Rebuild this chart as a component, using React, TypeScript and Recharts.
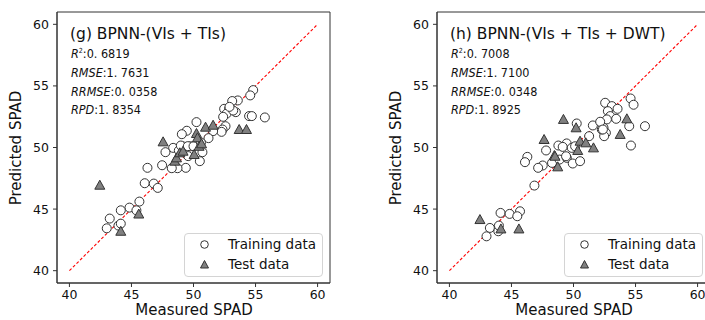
import React from 'react';
import {
  ScatterChart,
  Scatter,
  XAxis,
  YAxis,
  ReferenceLine,
  ReferenceArea,
} from 'recharts';

const gTrain: number[][] = [
  [54.81, 54.66], [54.57, 54.23], [53.57, 53.82], [53.12, 53.77], [52.47, 53.14],
  [52.87, 53.14], [53.41, 52.87], [52.66, 52.74], [52.39, 52.49], [54.48, 52.55],
  [54.7, 52.55], [55.75, 52.44], [52.58, 51.73], [52.34, 51.46], [52.26, 51.27],
  [51.58, 51.33], [51.21, 50.76], [50.24, 52.06], [49.46, 51.36], [49.06, 51.08],
  [49.76, 50.1], [49.12, 50.1], [48.36, 49.97], [47.74, 49.62], [48.82, 49.76],
  [48.98, 50.16], [49.54, 50.11], [50.72, 49.62], [49.57, 49.3], [50.51, 48.89],
  [49.38, 48.35], [48.71, 48.32], [48.25, 48.32], [47.47, 48.56], [46.29, 48.35],
  [46.07, 47.1], [46.8, 47.07], [47.12, 46.72], [45.64, 45.61], [44.84, 45.12],
  [44.14, 44.9], [43.25, 44.23], [43.01, 43.44], [43.95, 43.66], [44.14, 43.82],
  [45.4, 44.9], [50.0, 50.1], [50.6, 50.4], [53.2, 53.0], [52.9, 53.3],
];
const gTest: number[][] = [
  [42.45, 46.94], [44.14, 43.2], [45.59, 44.6], [47.55, 50.46], [48.49, 48.89],
  [48.63, 49.16], [48.9, 49.57], [49.16, 49.7], [50.05, 49.43], [50.24, 51.14],
  [50.32, 50.79], [50.45, 50.1], [50.65, 50.3], [50.97, 51.65], [51.58, 51.81],
  [53.68, 51.46], [54.27, 51.46],
];

const hTrain: number[][] = [
  [52.55, 53.63], [54.6, 53.98], [54.84, 53.47], [53.09, 53.36], [53.55, 53.14],
  [52.77, 52.95], [52.96, 52.55], [53.44, 52.33], [52.69, 52.28], [54.49, 51.73],
  [55.76, 51.73], [52.42, 51.6], [52.61, 51.19], [52.47, 50.92], [52.28, 51.46],
  [54.63, 50.16], [51.56, 51.79], [51.26, 50.92], [50.26, 51.95], [48.78, 50.16],
  [49.45, 50.33], [49.13, 50.05], [49.86, 49.97], [47.79, 49.76], [46.28, 49.24],
  [46.09, 48.81], [47.52, 48.54], [47.15, 48.35], [48.27, 48.75], [48.87, 49.02],
  [49.46, 49.16], [49.94, 48.7], [50.53, 48.89], [46.85, 46.91], [44.12, 44.69],
  [44.85, 44.61], [45.69, 44.82], [45.47, 44.42], [43.26, 43.47], [43.94, 43.2],
  [42.99, 42.79], [43.99, 43.66], [49.4, 49.29], [50.13, 50.1], [52.15, 52.09],
  [52.37, 51.46],
];
const hTest: number[][] = [
  [42.46, 44.15], [44.15, 43.39], [45.6, 43.39], [49.19, 52.28], [50.21, 51.6],
  [47.63, 50.65], [48.46, 49.35], [48.73, 48.43], [50.53, 50.51], [50.99, 50.38],
  [50.34, 49.76], [51.61, 49.97], [53.76, 51.06], [54.3, 52.33], [48.51, 49.29],
];

const ticks = [40, 45, 50, 55, 60];
const gStats = ['0. 6819', '1. 7631', '0. 0358', '1. 8354'];
const hStats = ['0. 7008', '1. 7100', '0. 0348', '1. 8925'];

const toPts = (arr: number[][]) => arr.map(([x, y]) => ({ x, y }));

const font = 'DejaVu Sans, sans-serif';
const condensed = 'DejaVu Sans Condensed, DejaVu Sans, sans-serif';

const Circle = (p: any) => (
  <circle cx={p.cx} cy={p.cy} r={4.5} fill="#fff" stroke="#333" strokeWidth={1} />
);
const Tri = (p: any) => (
  <path
    d={`M${p.cx},${p.cy - 5} L${p.cx + 5},${p.cy + 4} L${p.cx - 5},${p.cy + 4} Z`}
    fill="#808080"
    stroke="#333"
    strokeWidth={1}
  />
);

function Panel({ left, title, stats, train, test }: any) {
  const statY = [58.3, 77.3, 95.7, 114];
  return (
    <div style={{ position: 'absolute', left, top: 0, width: 340, height: 320 }}>
      <ScatterChart width={340} height={320} margin={{ top: 12, right: 10, bottom: 0, left: 0 }}>
        <XAxis
          type="number"
          dataKey="x"
          domain={[39, 61]}
          ticks={ticks}
          allowDataOverflow
          height={37}
          tickSize={4}
          tickMargin={3}
          stroke="#333"
          tick={{ fill: '#111', fontSize: 12.5, fontFamily: font }}
        />
        <YAxis
          type="number"
          dataKey="y"
          domain={[39, 61]}
          ticks={ticks}
          allowDataOverflow
          width={57}
          tickSize={4}
          tickMargin={4}
          stroke="#333"
          tick={{ fill: '#111', fontSize: 12.5, fontFamily: font }}
        />
        <ReferenceArea x1={39} x2={61} y1={39} y2={61} fill="none" stroke="#333" strokeWidth={1} />
        <ReferenceLine
          segment={[{ x: 40, y: 40 }, { x: 60, y: 60 }]}
          stroke="#ff0000"
          strokeWidth={1.1}
          strokeDasharray="3 2"
        />
        <Scatter data={toPts(train)} shape={Circle} isAnimationActive={false} />
        <Scatter data={toPts(test)} shape={Tri} isAnimationActive={false} />
        <text x={70} y={38.5} fontSize={15.5} fontFamily={font} fill="#111">
          {title}
        </text>
        <text x={71} y={statY[0]} fontSize={12.5} fontFamily={condensed} fill="#111">
          <tspan fontStyle="italic">R</tspan>
          <tspan fontSize={7} dy={-5}>2</tspan>
          <tspan dy={5}>:{stats[0]}</tspan>
        </text>
        <text x={71} y={statY[1]} fontSize={12.5} fontFamily={condensed} fill="#111">
          <tspan fontStyle="italic">RMSE</tspan>:{stats[1]}
        </text>
        <text x={71} y={statY[2]} fontSize={12.5} fontFamily={condensed} fill="#111">
          <tspan fontStyle="italic">RRMSE</tspan>:{stats[2]}
        </text>
        <text x={71} y={statY[3]} fontSize={12.5} fontFamily={condensed} fill="#111">
          <tspan fontStyle="italic">RPD</tspan>:{stats[3]}
        </text>
        <text
          x={16}
          y={148}
          transform="rotate(-90 16 148)"
          textAnchor="middle"
          dominantBaseline="central"
          fontSize={15}
          fontFamily={font}
          fill="#111"
        >
          Predicted SPAD
        </text>
        <text x={194} y={315} textAnchor="middle" fontSize={15} fontFamily={font} fill="#111">
          Measured SPAD
        </text>
      </ScatterChart>
      <div
        style={{
          position: 'absolute',
          left: 184,
          top: 233,
          width: 139,
          height: 44,
          boxSizing: 'border-box',
          border: '1px solid #d4d4d4',
          borderRadius: 4,
          background: 'rgba(255,255,255,0.85)',
          fontFamily: font,
          fontSize: 13.5,
          color: '#111',
        }}
      >
        <svg width={30} height={44} style={{ position: 'absolute', left: 0, top: 0 }}>
          <circle cx={19.5} cy={10.5} r={3.8} fill="#fff" stroke="#333" strokeWidth={1} />
          <path d="M19.5,26.5 L23.5,34 L15.5,34 Z" fill="#808080" stroke="#333" strokeWidth={1} />
        </svg>
        <div style={{ position: 'absolute', left: 43, top: 2, lineHeight: '17px', whiteSpace: 'nowrap' }}>
          Training data
        </div>
        <div style={{ position: 'absolute', left: 43, top: 22, lineHeight: '17px', whiteSpace: 'nowrap' }}>
          Test data
        </div>
      </div>
    </div>
  );
}

export default function App() {
  return (
    <div
      style={{
        position: 'absolute',
        left: 0,
        top: 0,
        width: 705,
        height: 320,
        overflow: 'hidden',
        background: '#fff',
      }}
    >
      <Panel left={0} title="(g) BPNN-(VIs + TIs)" stats={gStats} train={gTrain} test={gTest} />
      <Panel left={380} title="(h) BPNN-(VIs + TIs + DWT)" stats={hStats} train={hTrain} test={hTest} />
    </div>
  );
}
